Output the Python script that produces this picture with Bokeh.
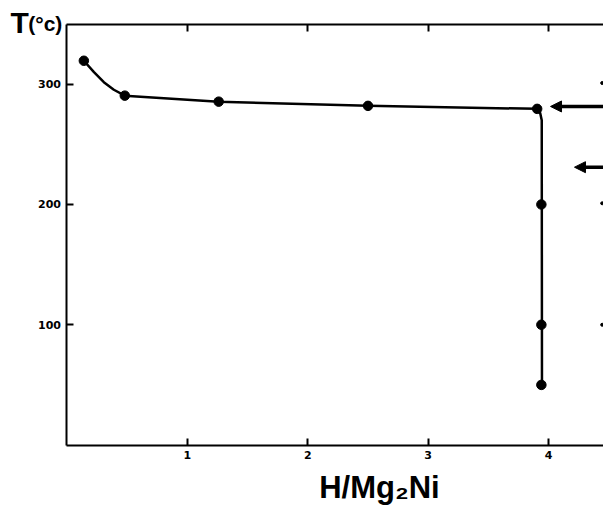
from bokeh.plotting import figure
from bokeh.models import LinearAxis, FixedTicker, Label, Arrow, NormalHead, Range1d
from bokeh.embed import file_html
from bokeh.resources import INLINE

# ---- data ----
h_points = [0.14, 0.48, 1.26, 2.50, 3.905, 3.94, 3.94, 3.94]
t_points = [319.5, 290.5, 285.5, 282.0, 279.5, 200.0, 100.0, 50.0]

# drawn curve
curve_h = [0.14, 0.224, 0.306, 0.389, 0.48, 1.26, 2.50, 3.905, 3.93, 3.943, 3.945]
curve_t = [319.5, 310.0, 301.7, 295.4, 290.5, 285.5, 282.0, 279.5, 276.0, 270.0, 50.0]

arrow_t = [281.5, 231.0]
arrow_tip_h = [4.016, 4.215]

edge_dot_h = [4.445, 4.445, 4.445]
edge_dot_t = [301.0, 201.0, 100.0]

x_ticks = [1, 2, 3, 4]
y_ticks = [100, 200, 300]
x_title = "H/Mg₂Ni"
y_title_main = "T"
y_title_unit = "(°c)"

X_MAX = 4.456
Y_TOP = 350

# frame covers the whole canvas; axes are pinned at the data origin
p = figure(width=603, height=506, x_range=Range1d(-0.5523, X_MAX), y_range=Range1d(-51.1, 369.6),
           output_backend="svg", toolbar_location=None,
           min_border_left=0, min_border_right=0, min_border_top=0, min_border_bottom=0,
           x_axis_type=None, y_axis_type=None)
p.outline_line_color = None
p.xgrid.visible = False
p.ygrid.visible = False
p.background_fill_color = "white"
p.border_fill_color = "white"


def style_axis(ax):
    ax.axis_line_width = 2
    ax.axis_line_color = "black"
    ax.major_tick_line_width = 2
    ax.major_tick_line_color = "black"
    ax.major_tick_in = 7
    ax.major_tick_out = 0
    ax.minor_tick_in = 0
    ax.minor_tick_out = 0
    ax.major_label_text_font = "DejaVu Sans"
    ax.major_label_text_font_style = "bold"
    ax.major_label_text_color = "black"
    ax.major_label_text_font_size = "11px"
    ax.major_label_standoff = 6


xb = LinearAxis(ticker=FixedTicker(ticks=x_ticks), fixed_location=0, bounds=(0, X_MAX))
style_axis(xb)
p.add_layout(xb, "below")

xt = LinearAxis(ticker=FixedTicker(ticks=x_ticks), fixed_location=Y_TOP, bounds=(0, X_MAX),
                major_label_overrides={t: "" for t in x_ticks})
style_axis(xt)
p.add_layout(xt, "above")

yl = LinearAxis(ticker=FixedTicker(ticks=y_ticks), fixed_location=0, bounds=(0, Y_TOP))
style_axis(yl)
p.add_layout(yl, "left")

p.line(curve_h, curve_t, line_width=2.5, color="black", line_join="round", line_cap="round")
p.scatter(h_points, t_points, size=9.5, color="black")
p.scatter(edge_dot_h, edge_dot_t, size=3, color="black")

for yv, tip in zip(arrow_t, arrow_tip_h):
    p.add_layout(Arrow(end=NormalHead(size=11, fill_color="black", line_color="black", line_width=1),
                       x_start=4.7, y_start=yv, x_end=tip, y_end=yv,
                       line_width=3.5, line_color="black"))

p.add_layout(Label(x=2.595, y=-35.5, text=x_title, text_align="center", text_baseline="middle",
                   text_font="Liberation Sans", text_font_style="bold", text_font_size="31px",
                   text_color="black"))
p.add_layout(Label(x=-0.393, y=351.5, text=y_title_main, text_align="center", text_baseline="middle",
                   text_font="Liberation Sans", text_font_style="bold", text_font_size="30px",
                   text_color="black"))
p.add_layout(Label(x=-0.180, y=350.5, text=y_title_unit, text_align="center", text_baseline="middle",
                   text_font="Liberation Sans", text_font_style="bold", text_font_size="21px",
                   text_color="black"))

open("out.html", "w").write(file_html(p, INLINE))
